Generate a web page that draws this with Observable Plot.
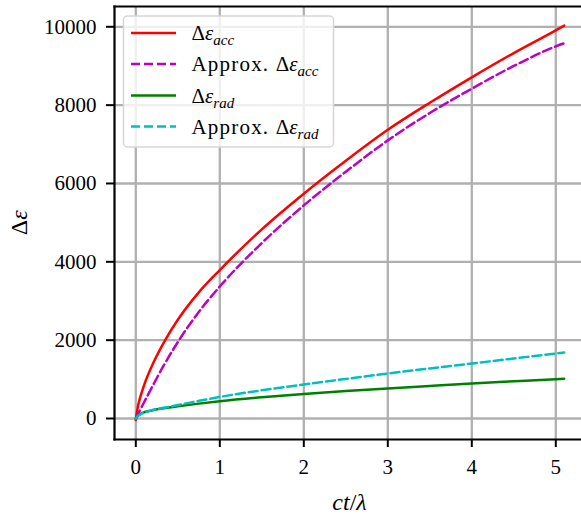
<!DOCTYPE html>
<html><head><meta charset="utf-8">
<script src="https://cdn.jsdelivr.net/npm/d3@7"></script>
<script src="https://cdn.jsdelivr.net/npm/@observablehq/plot@0.6"></script>
<style>
body{margin:0;background:#fff;}
#chart{width:581px;height:514px;overflow:hidden;}
</style>
</head><body><div id="chart"></div>
<script>
// time axis (ct/λ)
const tValues = [0, 0.02, 0.05, 0.1, 0.2, 0.35, 0.5, 0.75, 1, 1.5, 2, 2.5, 3, 3.5, 4, 4.5, 5, 5.1];
// Δε_acc (exact)
const accValues = [-40, 250, 520, 860, 1380, 2000, 2520, 3220, 3790, 4830, 5740, 6580, 7370, 8060, 8710, 9330, 9910, 10030];
// Approx. Δε_acc
const accApproxValues = [0, 85, 210, 420, 830, 1420, 1950, 2720, 3370, 4480, 5440, 6300, 7100, 7800, 8420, 9000, 9500, 9580];
// Δε_rad (exact)
const radValues = [0, 60, 110, 160, 210, 265, 310, 380, 440, 540, 625, 700, 768, 832, 894, 950, 1004, 1014];
// Approx. Δε_rad
const radApproxValues = [0, 55, 100, 150, 215, 280, 345, 450, 550, 720, 868, 1010, 1149, 1278, 1404, 1532, 1660, 1685];

const xTicks = [0, 1, 2, 3, 4, 5];
const yTicks = [0, 2000, 4000, 6000, 8000, 10000];

const seriesNames = ["acc", "accApprox", "rad", "radApprox"];
const seriesColors = ["#ff0000", "#bf00bf", "#008000", "#00bfbf"];
const seriesDashed = [false, true, false, true];
const seriesValues = [accValues, accApproxValues, radValues, radApproxValues];

const rows = [];
seriesNames.forEach((name, i) => {
  tValues.forEach((t, j) => rows.push({series: name, t, v: seriesValues[i][j]}));
});

const lineMarks = seriesNames.map((name, i) =>
  Plot.line(rows.filter(d => d.series === name), {
    x: "t", y: "v",
    stroke: seriesColors[i],
    strokeWidth: 2.5,
    strokeDasharray: seriesDashed[i] ? "9,4" : null,
    curve: "monotone-x"
  })
);

const svg = Plot.plot({
  width: 581, height: 514,
  marginLeft: 114, marginRight: 0, marginTop: 6, marginBottom: 75,
  style: {background: "#fff", fontFamily: "'Liberation Serif', serif", fontSize: "20px", color: "#000"},
  x: {domain: [-0.2536, 5.306]},
  y: {domain: [-536, 10518]},
  marks: [
    Plot.gridX(xTicks, {stroke: "#b0b0b0", strokeOpacity: 1, strokeWidth: 2.3}),
    Plot.gridY(yTicks, {stroke: "#b0b0b0", strokeOpacity: 1, strokeWidth: 2.3}),
    ...lineMarks,
    Plot.frame({anchor: "left", stroke: "#000", strokeWidth: 2.2}),
    Plot.frame({anchor: "top", stroke: "#000", strokeWidth: 2.2}),
    Plot.frame({anchor: "bottom", stroke: "#000", strokeWidth: 2.2}),
    Plot.axisX(xTicks, {tickSize: 8, tickPadding: 12, strokeWidth: 2, fontSize: 21, label: null, tickFormat: d => String(d)}),
    Plot.axisY(yTicks, {tickSize: 8, tickPadding: 10, strokeWidth: 2, fontSize: 21, label: null, tickFormat: d => String(d)})
  ]
});

const s = d3.select(svg);
// x label
const xl = s.append("text").attr("x", 349.5).attr("y", 510).attr("text-anchor", "middle")
  .attr("font-size", 24).attr("font-family", "'Liberation Serif', serif").attr("fill", "#000");
xl.append("tspan").attr("font-style", "italic").text("ct");
xl.append("tspan").text("/");
xl.append("tspan").attr("font-style", "italic").text("λ");
// y label
const yl = s.append("text").attr("transform", "translate(27,222.7) rotate(-90)").attr("text-anchor", "middle")
  .attr("font-size", 24).attr("font-family", "'Liberation Serif', serif").attr("fill", "#000");
yl.append("tspan").text("Δ");
yl.append("tspan").attr("font-style", "italic").text("ε");

// legend
const legendLabels = [["", "acc"], ["Approx. ", "acc"], ["", "rad"], ["Approx. ", "rad"]];
const lg = s.append("g").attr("font-family", "'Liberation Serif', serif").attr("fill", "#000").attr("text-anchor", "start");
lg.append("rect").attr("x", 123.5).attr("y", 16).attr("width", 210).attr("height", 131).attr("rx", 4)
  .attr("fill", "#fff").attr("fill-opacity", 0.8).attr("stroke", "#d6d6d6").attr("stroke-width", 1.5);
const rowY = [33, 64, 95.5, 126.5];
legendLabels.forEach((lab, i) => {
  lg.append("line").attr("x1", 131).attr("x2", 176).attr("y1", rowY[i]).attr("y2", rowY[i])
    .attr("stroke", seriesColors[i]).attr("stroke-width", 2.5)
    .attr("stroke-dasharray", seriesDashed[i] ? "9,4" : null);
  const tx = lg.append("text").attr("x", 191.5).attr("y", rowY[i] + 7).attr("font-size", 21).attr("text-anchor", "start");
  if (lab[0]) tx.append("tspan").attr("letter-spacing", "1.2px").text(lab[0]);
  tx.append("tspan").text("Δ");
  tx.append("tspan").attr("font-style", "italic").text("ε");
  tx.append("tspan").attr("font-style", "italic").attr("font-size", 15).attr("dy", 5).text(lab[1]);
});

document.getElementById("chart").appendChild(svg);
</script>
</body></html>
